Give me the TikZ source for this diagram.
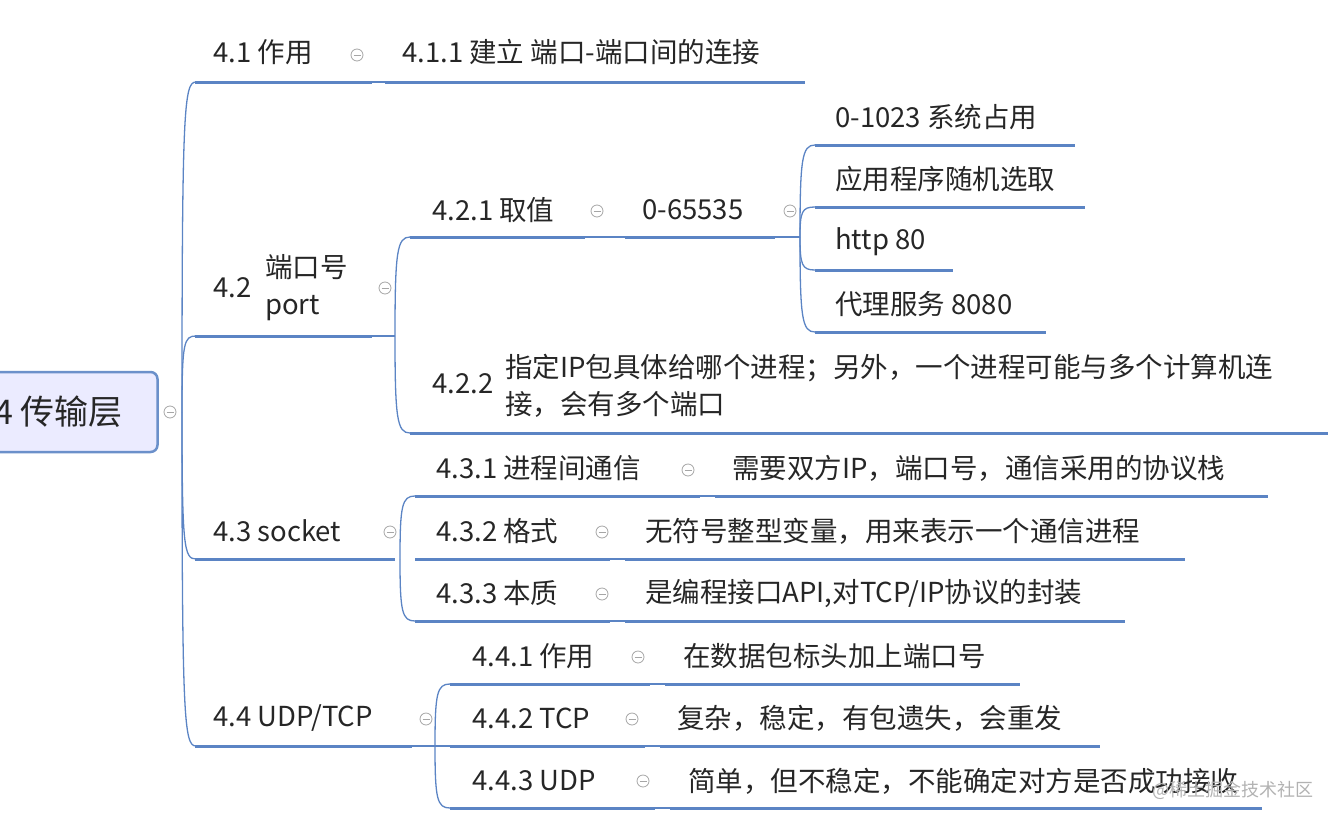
\documentclass[tikz,border=0pt]{standalone}
\usepackage{fontspec}
\setmainfont{Noto Sans CJK SC}
\usetikzlibrary{calc}
\begin{document}
\begin{tikzpicture}[x=1pt,y=-1pt,
  ln/.style={draw=lineblue,line width=3pt},
  br/.style={draw=lineblue,line width=1.3pt},
  txt/.style={anchor=west,inner sep=0pt,font=\fontsize{27.5}{37}\selectfont,text=black!85},
  tog/.style={circle,draw=gray!70,line width=0.8pt,minimum size=12pt,inner sep=0pt,fill=white,
    path picture={\draw[gray!70,line width=0.8pt] ([xshift=-3.5pt]path picture bounding box.center)--([xshift=3.5pt]path picture bounding box.center);}}]
\definecolor{lineblue}{HTML}{5B84C4}
\useasboundingbox (0,0) rectangle (1336,822);
\newcommand\ul[4]{\coordinate (#1s) at (#2,#4);\coordinate (#1e) at (#3,#4);\draw[ln] (#1s)--(#1e);}
% root
\node[draw=lineblue!90,line width=2.5pt,fill=blue!8!white,rounded corners=7pt,minimum width=175pt,minimum height=80pt] (root) at (70,412) {};
\node[txt,font=\fontsize{34}{38}\selectfont] (roott) at (-6,412) {4 传输层};
\node[tog] (rc) at (170,412) {};
\coordinate (trunk) at (182,412);
% level 1
\ul{a}{195}{372}{82}
\node[txt] (at) at (213,52) {4.1 作用};
\node[tog] (ac) at (357,55) {};
\ul{aa}{385}{805}{82}
\draw[br] (ae)--(aas);
\node[txt] (aat) at (402,52) {4.1.1 建立 端口-端口间的连接};
\ul{b}{195}{372}{336}
\node[txt] (bt) at (213,288) {4.2};
\node[txt,align=left] (bt2) at (265,288) {端口号\\port};
\node[tog] (bc) at (385,288) {};
\ul{c}{195}{395}{559}
\node[txt] (ct) at (213,531) {4.3 socket};
\node[tog] (cc) at (390,532) {};
\ul{d}{195}{412}{746}
\node[txt] (dt) at (213,718) {4.4 UDP/TCP};
\node[tog] (dc) at (426,719) {};
\foreach \n in {as,bs,cs,ds}{\draw[br] (trunk) .. controls ($(trunk)!0.92!(trunk|-\n)$) and ($(trunk|-\n)+(2,0)$) .. ($(trunk|-\n)+(14,0)$);}
% 4.2 children
\coordinate (bj) at (395,336);
\ul{ba}{410}{585}{237}
\node[txt] (bat) at (432,210) {4.2.1 取值};
\node[tog] (bac) at (597,211) {};
\ul{baa}{625}{775}{237}
\draw[br] (bae)--(baas);
\node[txt] (baat) at (642,210) {0-65535};
\node[tog] (baac) at (790,211) {};
\coordinate (bj2) at (800,237);
\draw[br] (baae)--(bj2);
\ul{p1}{815}{1075}{145}
\ul{p2}{815}{1085}{207}
\ul{p3}{815}{953}{270}
\ul{p4}{815}{1046}{332}
\node[txt] at (835,117) {0-1023 系统占用};
\node[txt] at (835,179) {应用程序随机选取};
\node[txt] at (835,242) {http 80};
\node[txt] at (835,304) {代理服务 8080};
\foreach \n in {p1s,p2s,p3s,p4s}{\draw[br] (bj2) .. controls ($(bj2)!0.85!(bj2|-\n)$) and ($(bj2|-\n)+(2,0)$) .. (\n);}
\ul{bb}{410}{1328}{433}
\node[txt] (bbt) at (432,384) {4.2.2};
\node[txt,align=left] (bbt2) at (505,386) {指定IP包具体给哪个进程；另外，一个进程可能与多个计算机连\\接，会有多个端口};
\draw[br] (be)--(bj);
\foreach \n in {bas,bbs}{\draw[br] (bj) .. controls ($(bj)!0.85!(bj|-\n)$) and ($(bj|-\n)+(2,0)$) .. (\n);}
% 4.3 children
\coordinate (cj) at (400,559);
\ul{ca}{415}{700}{496}
\node[txt] at (436,468) {4.3.1 进程间通信};
\node[tog] at (688,470) {};
\ul{caa}{715}{1268}{496}
\draw[br] (cae)--(caas);
\node[txt] at (732,468) {需要双方IP，端口号，通信采用的协议栈};
\ul{cb}{415}{610}{559}
\node[txt] at (436,531) {4.3.2 格式};
\node[tog] at (602,532) {};
\ul{cba}{625}{1185}{559}
\draw[br] (cbe)--(cbas);
\node[txt] at (645,531) {无符号整型变量，用来表示一个通信进程};
\ul{cc}{415}{610}{621}
\node[txt] at (436,593) {4.3.3 本质};
\node[tog] at (602,594) {};
\ul{cca}{625}{1125}{621}
\draw[br] (cce)--(ccas);
\node[txt] at (645,593) {是编程接口API,对TCP/IP协议的封装};
\draw[br] (cj) .. controls ($(cj)!0.85!(cj|-cas)$) and ($(cj|-cas)+(2,0)$) .. (cas);
\draw[br] (cj) .. controls ($(cj)!0.85!(cj|-ccs)$) and ($(cj|-ccs)+(2,0)$) .. (ccs);
% 4.4 children
\coordinate (dj) at (435,746);
\ul{da}{450}{650}{684}
\node[txt] at (472,656) {4.4.1 作用};
\node[tog] at (638,657) {};
\ul{daa}{665}{1020}{684}
\draw[br] (dae)--(daas);
\node[txt] at (683,656) {在数据包标头加上端口号};
\ul{db}{450}{645}{746}
\node[txt] at (472,718) {4.4.2 TCP};
\node[tog] at (632,719) {};
\ul{dba}{660}{1100}{746}
\draw[br] (dbe)--(dbas);
\node[txt] at (677,718) {复杂，稳定，有包遗失，会重发};
\ul{dc}{450}{655}{808}
\node[txt] at (472,781) {4.4.3 UDP};
\node[tog] at (643,781) {};
\ul{dca}{670}{1262}{808}
\draw[br] (dce)--(dcas);
\node[txt] at (688,781) {简单，但不稳定，不能确定对方是否成功接收};
\draw[br] (de)--(dj);
\foreach \n in {das,dbs,dcs}{\draw[br] (dj) .. controls ($(dj)!0.85!(dj|-\n)$) and ($(dj|-\n)+(2,0)$) .. (\n);}
\node[anchor=east,inner sep=0pt,font=\fontsize{18}{20}\selectfont,text=gray!60] (wm) at (1314,790) {@稀土掘金技术社区};
\end{tikzpicture}
\end{document}
